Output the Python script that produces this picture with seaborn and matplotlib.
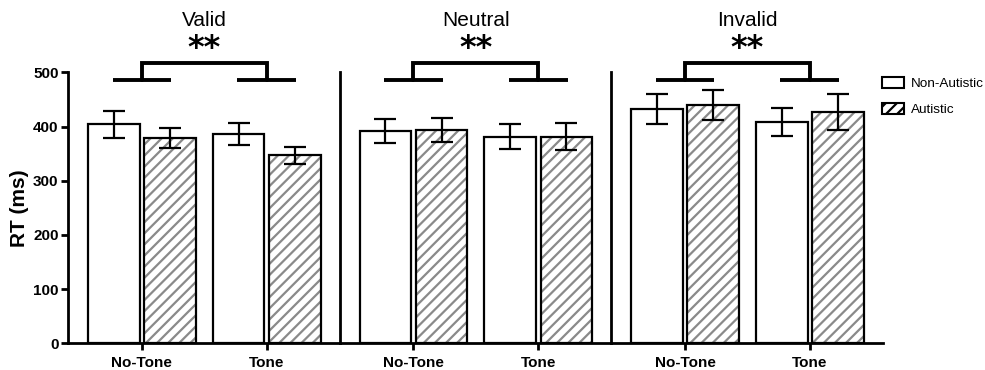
import matplotlib
matplotlib.use("Agg")
import matplotlib.pyplot as plt
import seaborn as sns
import pandas as pd
import numpy as np
from matplotlib.patches import Rectangle, Patch

# ---- data ----
conditions = ["Valid", "Neutral", "Invalid"]
tones = ["No-Tone", "Tone"]
groups = ["Non-Autistic", "Autistic"]
# mean RT (ms) per condition: [NoTone-NonAut, NoTone-Aut, Tone-NonAut, Tone-Aut]
valid_mean = [404, 379, 386, 347]
valid_se = [25, 19, 21, 16]
neutral_mean = [391, 394, 381, 381]
neutral_se = [22, 22, 23, 25]
invalid_mean = [432, 440, 409, 427]
invalid_se = [28, 28, 26, 33]
sig_labels = ["**", "**", "**"]
yticks = [0, 100, 200, 300, 400, 500]

means = [valid_mean, neutral_mean, invalid_mean]
ses = [valid_se, neutral_se, invalid_se]

sns.set_style("ticks")
plt.rcParams["font.family"] = ["Liberation Sans", "DejaVu Sans"]
plt.rcParams["hatch.linewidth"] = 1.6
plt.rcParams["hatch.color"] = "#8a8a8a"
for key in ["text.color", "axes.labelcolor", "xtick.color", "ytick.color",
            "axes.edgecolor"]:
    plt.rcParams[key] = "black"

fig = plt.figure(figsize=(9.85, 3.7), dpi=100)
left, right, bottom, top = 0.0693, 0.8964, 0.072, 0.8046
w = (right - left) / 3
axes = [fig.add_axes([left + i * w, bottom, w, top - bottom]) for i in range(3)]

palette = {"Non-Autistic": "white", "Autistic": "white"}
HATCH = "///"

for i, ax in enumerate(axes):
    rows = []
    k = 0
    for t in tones:
        for g in groups:
            rows.append({"tone": t, "group": g, "rt": means[i][k], "se": ses[i][k]})
            k += 1
    df = pd.DataFrame(rows)
    sns.barplot(data=df, x="tone", y="rt", hue="group", order=tones,
                hue_order=groups, palette=palette, errorbar=None,
                width=0.9, gap=0.08, edgecolor="black", linewidth=1.6,
                legend=False, ax=ax, zorder=2)
    bars = [p for p in ax.patches if isinstance(p, Rectangle)][:4]
    # seaborn orders patches by hue: first all Non-Autistic, then Autistic
    for hi, g in enumerate(groups):
        for ti, t in enumerate(tones):
            p = bars[hi * 2 + ti]
            val = df[(df.tone == t) & (df.group == g)]
            cx = p.get_x() + p.get_width() / 2
            if g == "Autistic":
                p.set_hatch(HATCH)
                p.set_edgecolor("#8a8a8a")
                p.set_linewidth(0)
                ax.add_patch(Rectangle((p.get_x(), p.get_y()), p.get_width(),
                                       p.get_height(), fill=False,
                                       edgecolor="black", linewidth=1.6, zorder=3))
            ax.errorbar(cx, val.rt.values[0], yerr=val.se.values[0], fmt="none",
                        ecolor="black", elinewidth=1.6, capsize=8, capthick=1.6,
                        zorder=4)

    ax.set_xlim(-0.59, 1.586)
    ax.set_ylim(0, 500)
    ax.set_xlabel("")
    ax.set_ylabel("")
    sns.despine(ax=ax)
    for s in ["left", "bottom"]:
        ax.spines[s].set_linewidth(2)
    ax.tick_params(axis="x", width=2, length=5, pad=4)
    for lab in ax.get_xticklabels():
        lab.set_fontweight("bold")
        lab.set_fontsize(11)
    if i == 0:
        ax.set_yticks(yticks)
        ax.set_yticklabels([str(v) for v in yticks], fontweight="bold", fontsize=11)
        ax.tick_params(axis="y", width=2, length=5, pad=2)
        ax.set_ylabel("RT (ms)", fontweight="bold", fontsize=15, labelpad=3)
    else:
        ax.set_yticks([])
    ax.set_title(conditions[i], fontsize=15, pad=33)

    # significance bracket
    lw = 2.8
    x0, x1 = 0, 1
    ylow, yhigh = 485, 518
    hw = 0.235
    for xc in (x0, x1):
        ax.plot([xc - hw, xc + hw], [ylow, ylow], color="black", lw=lw,
                clip_on=False, solid_capstyle="butt")
    ax.plot([x0, x0, x1, x1], [ylow, yhigh, yhigh, ylow], color="black", lw=lw,
            clip_on=False, solid_joinstyle="miter")
    ax.text(0.5, 528, sig_labels[i], ha="center", va="baseline",
            fontsize=23, fontweight="bold", family=["DejaVu Sans"], clip_on=False)

handles = [Patch(facecolor="white", edgecolor="black", linewidth=1.5, label=groups[0]),
           Patch(facecolor="white", edgecolor="black", linewidth=1.5, hatch=HATCH,
                 label=groups[1])]
leg = fig.legend(handles=handles, loc="upper left", bbox_to_anchor=(0.886, 0.818),
                 frameon=False, fontsize=9.7, handlelength=1.6, handleheight=0.9,
                 handletextpad=0.55, labelspacing=0.95, borderpad=0.2)

fig.savefig("out.png", dpi=100)
